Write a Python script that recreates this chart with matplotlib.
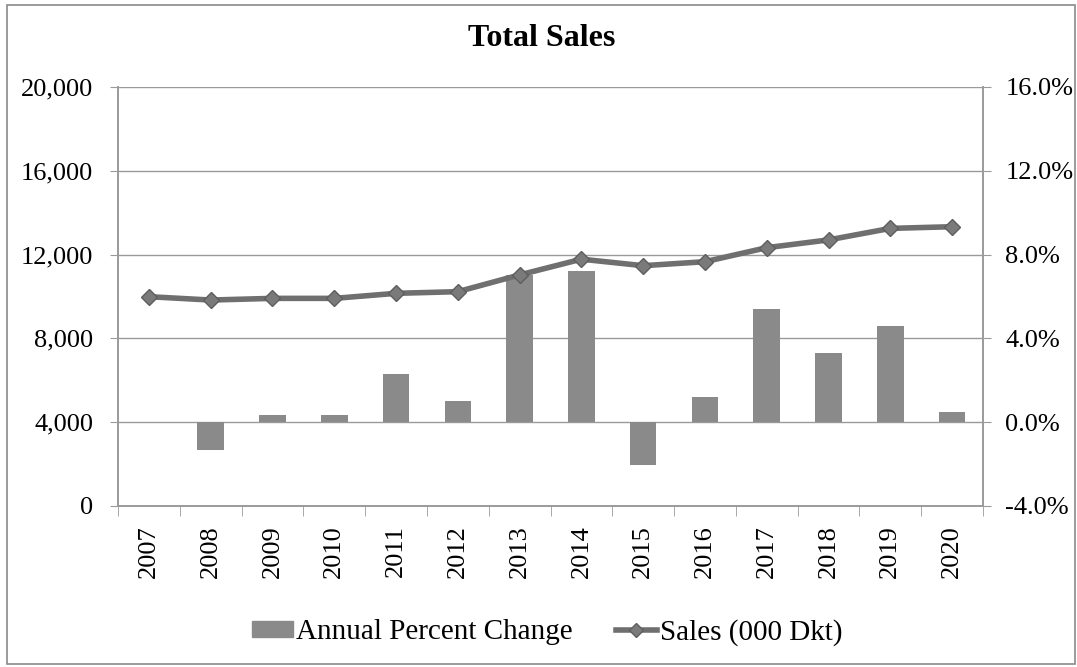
import numpy as np
import matplotlib
matplotlib.use("Agg")
import matplotlib.pyplot as plt
from matplotlib.patches import Rectangle
from matplotlib.lines import Line2D
from matplotlib.ticker import FuncFormatter

plt.rcParams["font.family"] = ["Liberation Serif", "DejaVu Serif"]

years = [str(y) for y in range(2007, 2021)]
sales = [9990, 9830, 9910, 9910, 10150, 10230, 11030, 11780,
         11470, 11660, 12330, 12700, 13250, 13330]
pct_change = [np.nan, -1.33, 0.35, 0.33, 2.32, 0.99, 7.04, 7.20,
              -2.02, 1.19, 5.40, 3.30, 4.60, 0.48]

bar_color = "#8a8a8a"
line_color = "#6f6f6f"
grid_color = "#9a9a9a"

def main():
    fig = plt.figure(figsize=(10.77, 6.67), dpi=100)
    ax = fig.add_axes([0.1096, 0.2414, 0.8031, 0.6282])
    ax2 = ax.twinx()

    x = np.arange(len(years))

    # bars on the percent axis
    ax2.bar(x, pct_change, width=0.43, color=bar_color, zorder=2)
    ax2.set_ylim(-4, 16)
    ax2.set_yticks(np.arange(-4, 17, 4))
    ax2.yaxis.set_major_formatter(FuncFormatter(lambda v, p: f"{v:.1f}%"))

    # line on the sales axis, drawn above the bars
    ax.set_zorder(ax2.get_zorder() + 1)
    ax.patch.set_visible(False)
    ax.plot(x, sales, color=line_color, lw=4, marker="D", ms=8,
            mfc="#7a7a7a", mec="#5e5e5e", zorder=3)
    ax.set_ylim(0, 20000)
    ax.set_yticks(np.arange(0, 20001, 4000))
    ax.yaxis.set_major_formatter(FuncFormatter(lambda v, p: f"{int(v):,}"))
    ax.set_xlim(-0.5, len(years) - 0.5)

    for yv in np.arange(4000, 20001, 4000):
        ax2.axhline(-4 + yv / 1000, color=grid_color, lw=1, zorder=1)

    ax.set_xticks(x)
    ax.set_xticklabels(years, rotation=90)
    ax.set_xticks(np.arange(-0.5, len(years), 1), minor=True)
    ax.tick_params(axis="x", which="major", length=0, pad=14, labelsize=19)
    ax.tick_params(axis="x", which="minor", length=7, color=grid_color, direction="out")
    ax.tick_params(axis="y", length=6, color=grid_color, labelsize=19, pad=12)
    ax2.tick_params(axis="y", length=6, color=grid_color, labelsize=19, pad=10)

    for a in (ax, ax2):
        a.spines["top"].set_visible(False)
        for s in ("left", "right", "bottom"):
            a.spines[s].set_color(grid_color)
            a.spines[s].set_linewidth(1.2)

    fig.text(0.503, 0.943, "Total Sales", ha="center", va="center",
             fontsize=23, fontweight="bold")

    handles = [Rectangle((0, 0), 1, 1, color=bar_color),
               Line2D([0], [0], color=line_color, lw=4, marker="D", ms=7,
                      mfc="#7a7a7a", mec="#5e5e5e")]
    fig.legend(handles, ["Annual Percent Change", "Sales (000 Dkt)"],
               loc="center", bbox_to_anchor=(0.508, 0.052), ncol=2, frameon=False,
               fontsize=21, handlelength=1.4, handleheight=0.5, handletextpad=0.1,
               columnspacing=1.5)

    fig.patches.append(Rectangle((0.0065, 0.004), 0.9915, 0.9885, transform=fig.transFigure,
                                 fill=False, edgecolor="#8a8a8a", lw=1.2))

    fig.savefig("out.png", dpi=100)


if __name__ == "__main__":
    main()
